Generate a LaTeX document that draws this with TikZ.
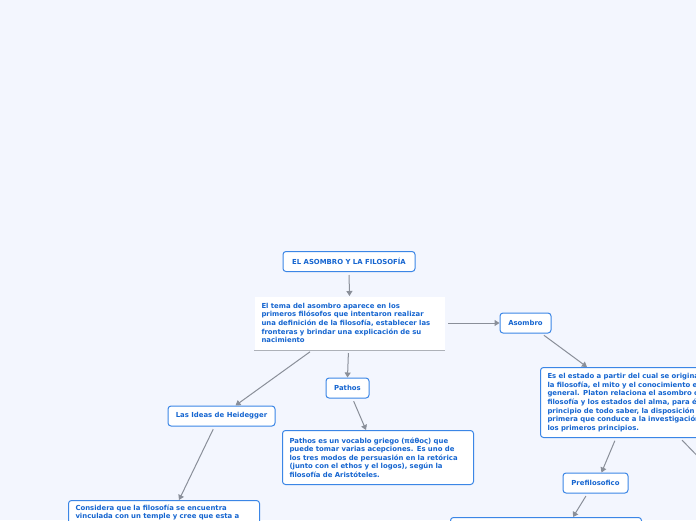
\documentclass[tikz,border=0pt]{standalone}
\usepackage{fontspec}
\setmainfont{DejaVu Sans}
\usetikzlibrary{arrows.meta,positioning}
\definecolor{bgcol}{HTML}{F3F6FE}
\definecolor{boxblue}{HTML}{3B86E6}
\definecolor{txtblue}{HTML}{1565D0}
\definecolor{linkgray}{HTML}{8A8F99}
\tikzset{
  topic/.style={draw=boxblue, line width=1pt, rounded corners=3pt, fill=white, text=txtblue,
    font=\fontsize{6.9}{8.6}\selectfont\bfseries, inner sep=0pt, minimum height=20pt},
  note/.style={topic, align=left, anchor=north west, inner xsep=7pt, inner ysep=4pt, text width=177pt},
  link/.style={draw=linkgray, line width=1pt, shorten <=3pt, -{Triangle[length=5pt,width=6pt]}}
}
\begin{document}
\begin{tikzpicture}[x=1pt,y=-1pt]
\fill[bgcol] (0,0) rectangle (696,520);
\useasboundingbox (0,0) rectangle (696,520);
\clip (0,0) rectangle (696,520);
% central topic
\node[topic, minimum width=132pt] (title) at (349,261.5) {EL ASOMBRO Y LA FILOSOFÍA};
\node[note, draw=none, rounded corners=0pt, minimum height=53pt, text width=176pt] (main) at (254,296)
  {El tema del asombro aparece en los\\primeros filósofos que intentaron realizar\\una definición de la filosofía, establecer las\\fronteras y brindar una explicación de su\\nacimiento};
\draw[linkgray!70, line width=1pt] (main.south west) -- (main.south east);
% branches
\node[topic, minimum width=51pt] (asombro) at (525.5,323) {Asombro};
\node[topic, minimum width=43pt] (pathos) at (347.5,388) {Pathos};
\node[topic, minimum width=107pt] (heid) at (221.5,416) {Las Ideas de Heidegger};
\node[topic, minimum width=65pt] (pref) at (595.5,483) {Prefilosofico};
% notes
\node[note, minimum height=70pt] (astext) at (540,367)
  {Es el estado a partir del cual se origina\\la filosofía, el mito y el conocimiento en\\general. Platon relaciona el asombro con la\\filosofía y los estados del alma, para él es el\\principio de todo saber, la disposición\\primera que conduce a la investigación de\\los primeros principios.};
\node[note, minimum height=54pt] (pathtext) at (282,430)
  {Pathos es un vocablo griego (πάθος) que\\puede tomar varias acepciones. Es uno de\\los tres modos de persuasión en la retórica\\(junto con el ethos y el logos), según la\\filosofía de Aristóteles.};
\node[note] (constext) at (68,500)
  {Considera que la filosofía se encuentra\\vinculada con un temple y cree que esta a\\\strut\\\strut};
\node[note, minimum height=40pt] (lastbox) at (450,517) {};
\coordinate (offright) at (740,500);
% links
\draw[link] (title.south) -- (main.north);
\draw[link] (main.east) -- (asombro.west);
\draw[link] ([xshift=-1pt]main.south) -- (pathos.north);
\draw[link] ([xshift=-37pt]main.south) -- ([xshift=14pt]heid.north);
\draw[link] ([xshift=16pt]asombro.south) -- ([xshift=47pt]astext.north west);
\draw[link] ([xshift=5pt]pathos.south) -- ([xshift=84pt]pathtext.north west);
\draw[link] ([xshift=-7pt]heid.south) -- ([xshift=111pt]constext.north west);
\draw[link] ([xshift=76pt]astext.south west) -- ([xshift=6pt]pref.north);
\draw[link] ([xshift=140pt]astext.south west) -- (offright);
\draw[link] ([xshift=-8pt]pref.south) -- ([xshift=123pt]lastbox.north west);
\end{tikzpicture}
\end{document}
